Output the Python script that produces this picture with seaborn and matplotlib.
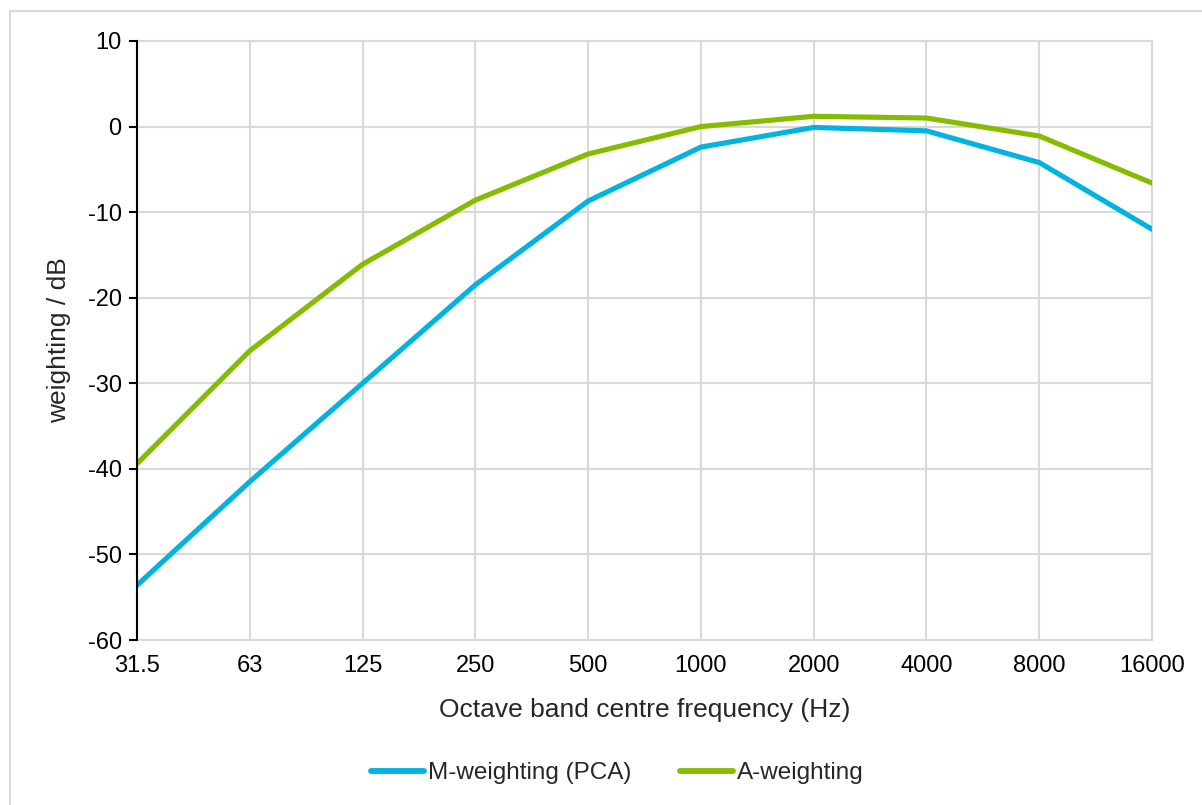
import matplotlib
matplotlib.use("Agg")
import matplotlib.pyplot as plt
from matplotlib.lines import Line2D
import pandas as pd
import seaborn as sns

# ---------------------------------------------------------------------------
# Data
# ---------------------------------------------------------------------------
FREQ_LABELS = ["31.5", "63", "125", "250", "500", "1000", "2000", "4000", "8000", "16000"]
M_WEIGHTING = [-53.6, -41.5, -30.0, -18.5, -8.7, -2.4, -0.1, -0.5, -4.2, -12.0]
A_WEIGHTING = [-39.4, -26.2, -16.1, -8.6, -3.2, 0.0, 1.2, 1.0, -1.1, -6.6]
Y_TICKS = [-60, -50, -40, -30, -20, -10, 0, 10]

M_COLOR = "#00B3E0"
A_COLOR = "#86BC00"
GRID = "#D9D9D9"

sns.set_theme(style="white")
plt.rcParams["font.family"] = ["Liberation Sans", "DejaVu Sans"]
plt.rcParams["axes.unicode_minus"] = False

pos = list(range(len(FREQ_LABELS)))
df = pd.DataFrame({
    "pos": pos * 2,
    "value": M_WEIGHTING + A_WEIGHTING,
    "series": ["M-weighting (PCA)"] * len(pos) + ["A-weighting"] * len(pos),
})

W, H = 1202, 805
fig = plt.figure(figsize=(W / 100, H / 100), dpi=100)
fig.patch.set_facecolor("white")
ax = fig.add_axes([137 / W, (H - 640) / H, (1152 - 137) / W, (640 - 41) / H])

sns.lineplot(data=df, x="pos", y="value", hue="series",
             palette={"M-weighting (PCA)": M_COLOR, "A-weighting": A_COLOR},
             linewidth=3.7, ax=ax, legend=False, zorder=3)

ax.set_xlim(0, len(FREQ_LABELS) - 1)
ax.set_ylim(-60, 10)
ax.set_xticks(pos)
ax.set_xticklabels(FREQ_LABELS)
ax.set_yticks(Y_TICKS)
ax.tick_params(axis="x", length=0, pad=11, labelsize=17, colors="black")
ax.tick_params(axis="y", length=6, width=1.5, direction="out", pad=5,
               labelsize=17, colors="black", left=True)

for gx in pos:
    ax.axvline(gx, color=GRID, linewidth=1.5, zorder=1, clip_on=False)
for gy in Y_TICKS:
    ax.axhline(gy, color=GRID, linewidth=1.5, zorder=1, clip_on=False)

for s in ["top", "right", "bottom"]:
    ax.spines[s].set_visible(False)
ax.spines["left"].set_color("black")
ax.spines["left"].set_linewidth(1.5)
ax.spines["left"].set_zorder(4)

ax.set_xlabel("Octave band centre frequency (Hz)", fontsize=19, labelpad=15)
ax.set_ylabel("weighting / dB", fontsize=19, labelpad=12)

handles = [Line2D([0], [0], color=M_COLOR, linewidth=4.2, solid_capstyle="round"),
           Line2D([0], [0], color=A_COLOR, linewidth=4.2, solid_capstyle="round")]
fig.legend(handles, ["M-weighting (PCA)", "A-weighting"],
           loc="center", bbox_to_anchor=(617 / W, (H - 773) / H), ncol=2,
           frameon=False, fontsize=17.5, handlelength=2.2, handletextpad=0.15,
           columnspacing=2.0)

# chart-area border (top and left edges visible)
fig.add_artist(Line2D([10 / W, 1.0], [1 - 11 / H, 1 - 11 / H],
                      transform=fig.transFigure, color=GRID, linewidth=1.5))
fig.add_artist(Line2D([10 / W, 10 / W], [0.0, 1 - 11 / H],
                      transform=fig.transFigure, color=GRID, linewidth=1.5))

fig.savefig("out.png", dpi=100, facecolor="white")
